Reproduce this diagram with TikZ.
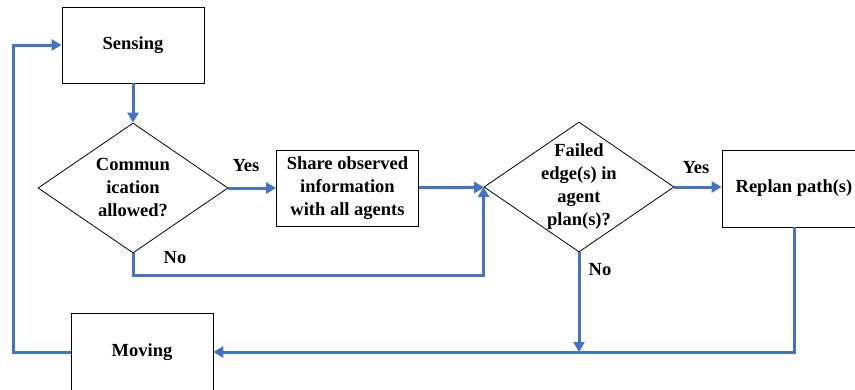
\documentclass[tikz,border=0pt]{standalone}
\usepackage{fontspec}
\setmainfont{Liberation Serif}
\usetikzlibrary{arrows.meta,shapes.geometric}
\usepackage{xcolor}
\definecolor{flowblue}{RGB}{68,114,196}

\tikzset{
    boxfont/.style={font=\fontsize{18.5}{23}\selectfont\bfseries},
    block/.style={draw, line width=0.8pt, minimum width=142pt, minimum height=76pt, align=center, boxfont},
    decision/.style={draw, diamond, line width=0.8pt, minimum width=190pt, minimum height=130pt, inner sep=-10pt, align=center, boxfont},
    flow/.style={draw=flowblue, line width=3pt, -{Triangle[length=10pt,width=11pt]}},
    answer/.style={boxfont}
}

\begin{document}
\begin{tikzpicture}[x=1pt,y=-1pt]
        \useasboundingbox (0,0) rectangle (855,389);

        % Boxes and decisions
        \node[block] (sensing) at (133,45) {Sensing};
        \node[decision] (comm) at (133,188) {Commun\\ication\\allowed?};
        \node[block] (share) at (347.5,188) {Share observed\\information\\with all agents};
        \node[decision] (failed) at (579,187) {Failed\\edge(s) in\\agent\\plan(s)?};
        \node[block, minimum width=144pt, minimum height=77pt] (replan) at (794,188.5) {Replan path(s)};
        \node[block, minimum height=78pt] (moving) at (142,352) {Moving};

        % Corner points of the loops
        \coordinate (backleft) at (13,352);
        \coordinate (commno) at (133,275);

        % Main flow
        \draw[flow] (sensing) -- (comm);
        \draw[flow] (comm) -- (share);
        \draw[flow] (share) -- (failed);
        \draw[flow] (failed) -- (failed -| replan.west);

        % No branch of the communication check
        \draw[flow] (comm.south) -- (commno) -| (failed.west);

        % Back to moving and sensing
        \draw[flow] (replan.south) |- (moving.east);
        \draw[flow] (failed.south) -- (failed.south |- moving.east);
        \draw[flow] (moving.west) -- (backleft) |- (sensing.west);

        % Answers
        \node[answer] (yescomm) at (246,166) {Yes};
        \node[answer] (nocomm) at (175,258) {No};
        \node[answer] (yesfailed) at (696,168) {Yes};
        \node[answer] (nofailed) at (600,270) {No};

    \end{tikzpicture}
\end{document}
